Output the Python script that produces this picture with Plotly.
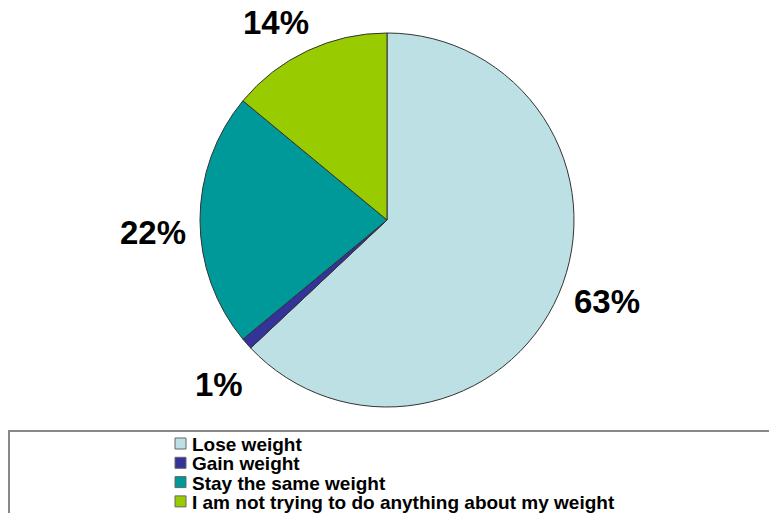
import math
import plotly.graph_objects as go

labels = [
    "Lose weight",
    "Gain weight",
    "Stay the same weight",
    "I am not trying to do anything about my weight",
]
values = [63, 1, 22, 14]
colors = ["#BDE0E4", "#333399", "#009999", "#99CC00"]

W, H = 769, 513
CX, CY, R = 387, 220, 187
FONT = "Liberation Sans, Arial, sans-serif"

fig = go.Figure(
    go.Pie(
        labels=labels,
        values=values,
        sort=False,
        direction="clockwise",
        rotation=0,
        marker=dict(colors=colors, line=dict(color="#333333", width=1)),
        textinfo="none",
        hoverinfo="label+percent",
        domain=dict(
            x=[(CX - R) / W, (CX + R) / W],
            y=[1 - (CY + R) / H, 1 - (CY - R) / H],
        ),
    )
)

# percentage labels outside each slice, near the slice's middle angle
annotations = []
total = sum(values)
cum = 0
for v in values:
    mid = math.radians((cum + v / 2) / total * 360 - 3)
    cum += v
    px_x = CX + 1.255 * R * math.sin(mid)
    px_y = max(CY - 1.255 * R * math.cos(mid), 23)  # keep inside the top edge
    annotations.append(
        dict(
            x=px_x / W,
            y=1 - px_y / H,
            xref="paper",
            yref="paper",
            text=f"{round(v / total * 100)}%",
            showarrow=False,
            borderpad=0,
            font=dict(family=FONT, size=33, color="black", weight="bold"),
            xanchor="center",
            yanchor="middle",
        )
    )

# legend box at the bottom, drawn by hand so rows sit as tight as the original
shapes = [
    dict(
        type="rect",
        xref="paper",
        yref="paper",
        x0=9 / W,
        x1=1.05,
        y0=-0.1,
        y1=1 - 431 / H,
        line=dict(color="#888888", width=2),
        fillcolor="rgba(0,0,0,0)",
    )
]
ROW0, ROW_GAP = 443.5, 19.3
for i, (lab, col) in enumerate(zip(labels, colors)):
    yc = ROW0 + i * ROW_GAP
    shapes.append(
        dict(
            type="rect",
            xref="paper",
            yref="paper",
            x0=175 / W,
            x1=186 / W,
            y0=1 - (yc + 5.5) / H,
            y1=1 - (yc - 5.5) / H,
            line=dict(color="#666666", width=1),
            fillcolor=col,
        )
    )
    annotations.append(
        dict(
            x=190 / W,
            y=1 - (yc + 1) / H,
            xref="paper",
            yref="paper",
            text=lab,
            showarrow=False,
            font=dict(family=FONT, size=19, color="black", weight="bold"),
            xanchor="left",
            yanchor="middle",
        )
    )

fig.update_layout(
    width=W,
    height=H,
    margin=dict(l=0, r=0, t=0, b=0),
    paper_bgcolor="white",
    plot_bgcolor="white",
    font=dict(family=FONT, color="black"),
    annotations=annotations,
    shapes=shapes,
    showlegend=False,
)

fig.write_html(
    "out.html",
    config={"displayModeBar": False},
    post_script="document.body.style.margin='0';document.body.style.overflow='hidden';",
)
